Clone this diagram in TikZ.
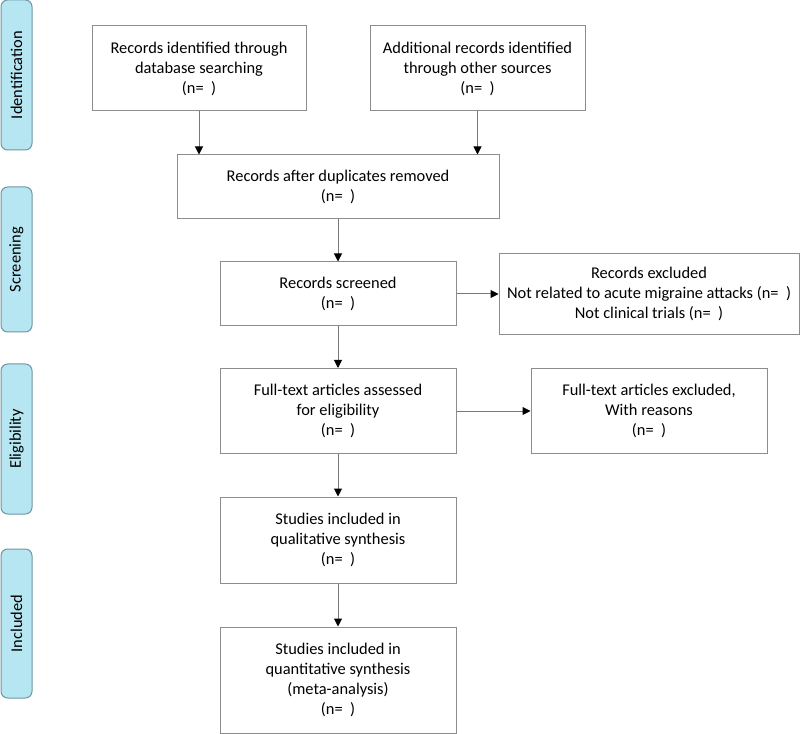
\documentclass[tikz,border=0pt]{standalone}
\usepackage{fontspec}
\setmainfont{Carlito}
\usepackage{tikz}
\usetikzlibrary{arrows.meta}

\begin{document}
\begin{tikzpicture}[x=0.75pt,y=0.75pt,yscale=-1,xscale=1,
  box/.style={draw={rgb, 255:red, 140; green, 140; blue, 140 }, line width=0.75pt, align=center, font=\fontsize{12.3}{15}\selectfont, inner sep=0pt},
  tab/.style={draw={rgb, 255:red, 110; green, 150; blue, 160 }, fill={rgb, 255:red, 182; green, 230; blue, 242 }, line width=0.75pt, rounded corners=5pt, rotate=90, minimum height=23.25pt, inner sep=0pt, font=\fontsize{12.3}{15}\selectfont},
  link/.style={draw={rgb, 255:red, 120; green, 120; blue, 120 }, line width=0.75pt, -{Triangle[width=6pt,length=6pt,fill=black,color=black]}}]
\useasboundingbox (0,0) rectangle (800,734);

%Shape: Rounded Rect (side tabs)
\draw (16.5,75) node [tab, minimum width=112.5pt] (ident) {Identification};
\draw (16.5,259.5) node [tab, minimum width=108.75pt] (screen) {Screening};
\draw (16.5,439) node [tab, minimum width=112.5pt] (elig) {Eligibility};
\draw (16.5,623.5) node [tab, minimum width=111.75pt] (incl) {Included};

%Shape: Rectangle
\draw (199,68.5) node [box, minimum width=160.5pt, minimum height=63.75pt] (dbsearch) {Records identified through\\database searching\\(n=~~)};
%Shape: Rectangle
\draw (477.5,68.5) node [box, minimum width=161.25pt, minimum height=63.75pt] (othersrc) {Additional records identified\\through other sources\\(n=~~)};
%Shape: Rectangle
\draw (338,187) node [box, minimum width=241.5pt, minimum height=48pt] (dupl) {Records after duplicates removed\\(n=~~)};
%Shape: Rectangle
\draw (338,294) node [box, minimum width=177pt, minimum height=48pt] (screened) {Records screened\\(n=~~)};
%Shape: Rectangle
\draw (649,294) node [box, minimum width=225pt, minimum height=60.75pt] (excl) {Records excluded\\Not related to acute migraine attacks (n=~~)\\Not clinical trials (n=~~)};
%Shape: Rectangle
\draw (338,411) node [box, minimum width=177pt, minimum height=63.75pt] (fulltext) {Full-text articles assessed\\for eligibility\\(n=~~)};
%Shape: Rectangle
\draw (649,411) node [box, minimum width=177pt, minimum height=63.75pt] (ftexcl) {Full-text articles excluded,\\With reasons\\(n=~~)};
%Shape: Rectangle
\draw (338,540) node [box, minimum width=177pt, minimum height=64.5pt] (qual) {Studies included in\\qualitative synthesis\\(n=~~)};
%Shape: Rectangle
\draw (338,680) node [box, minimum width=177pt, minimum height=79.5pt] (quant) {Studies included in\\quantitative synthesis\\(meta-analysis)\\(n=~~)};

%Straight Lines
\draw [link] (dbsearch) -- (dbsearch |- dupl.north) ;
\draw [link] (othersrc) -- (othersrc |- dupl.north) ;
\draw [link] (dupl) -- (screened) ;
\draw [link] (screened) -- (excl) ;
\draw [link] (screened) -- (fulltext) ;
\draw [link] (fulltext) -- (ftexcl) ;
\draw [link] (fulltext) -- (qual) ;
\draw [link] (qual) -- (quant) ;

\end{tikzpicture}
\end{document}
